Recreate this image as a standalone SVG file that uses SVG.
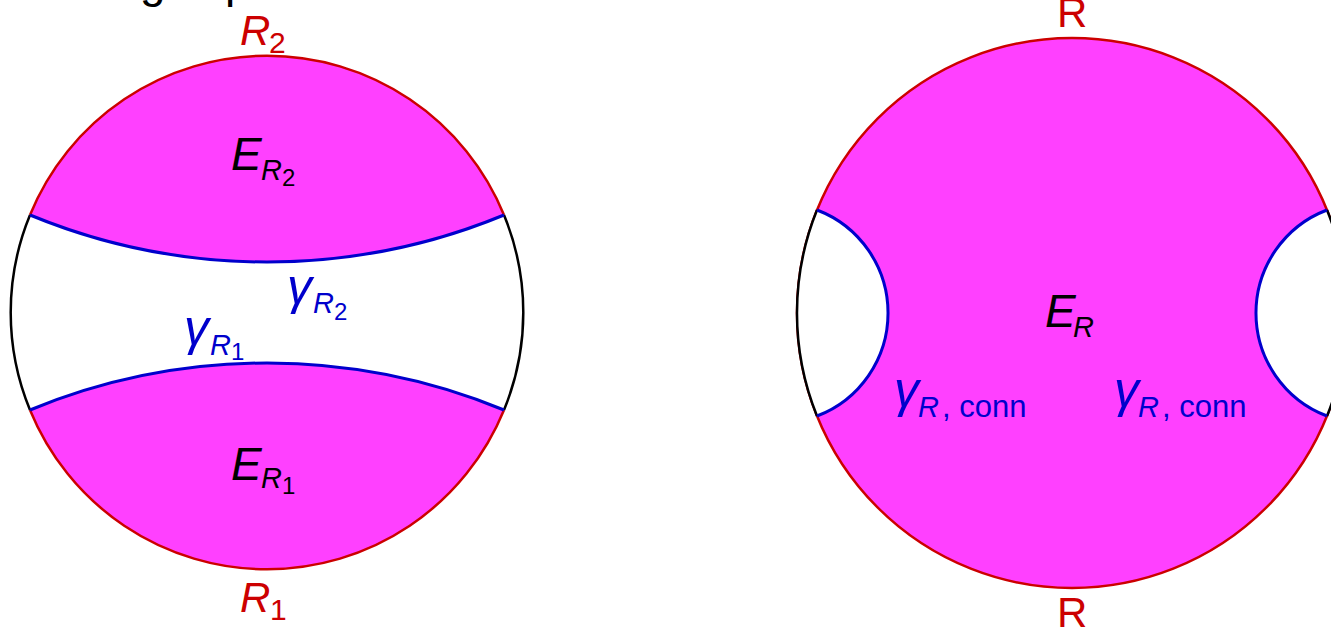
<svg xmlns="http://www.w3.org/2000/svg" width="1331" height="631" viewBox="0 0 1331 631">
<style>
.mag{fill:#ff40ff;stroke:none}
.wht{fill:#ffffff;stroke:none}
.red{fill:none;stroke:#cc0000;stroke-width:2.5}
.blk{fill:none;stroke:#000000;stroke-width:2.5}
.blu{fill:none;stroke:#0000cc;stroke-width:3}
text{font-family:"Liberation Sans",Arial,sans-serif}
.it{font-style:italic}
.tr{fill:#cc0000}
.tk{fill:#000000}
.tb{fill:#0000cc}
</style>
<rect x="0" y="0" width="1331" height="631" fill="#ffffff"/>
<g id="title-fragment">
<text class="tk" x="140" y="-3" font-size="46">g</text>
<text class="tk" x="225" y="-3" font-size="46">p</text>
</g>
<g id="left-bulk">
<circle cx="267" cy="312" r="256" fill="#ffffff"/>
<path id="ER2-region" class="mag" d="M30,215 A256,256 0 0 1 504,215 A621,621 0 0 1 30,215 Z"/>
<path id="ER1-region" class="mag" d="M30,410 A256,256 0 0 0 504,410 A621,621 0 0 0 30,410 Z"/>
<path class="red" d="M30,215 A256,256 0 0 1 504,215"/>
<path class="red" d="M30,410 A256,256 0 0 0 504,410"/>
<path class="blk" d="M30,215 A256,256 0 0 0 30,410"/>
<path class="blk" d="M504,215 A256,256 0 0 1 504,410"/>
</g>
<g id="left-connectors">
<path id="gammaR2" class="blu" d="M30,215 A621,621 0 0 0 504,215"/>
<path id="gammaR1" class="blu" d="M30,410 A621,621 0 0 1 504,410"/>
</g>
<g id="left-labels">
<text class="tr it" x="240" y="45" font-size="42">R<tspan x="269" y="53" font-size="30" font-style="normal">2</tspan></text>
<text class="tk it" x="231" y="170" font-size="46">E<tspan x="261" y="180" font-size="29">R</tspan><tspan x="282" y="186" font-size="24" font-style="normal">2</tspan></text>
<text class="tb it" x="287" y="304" font-size="50">γ<tspan x="313" y="313" font-size="29">R</tspan><tspan x="334" y="320" font-size="24" font-style="normal">2</tspan></text>
<text class="tb it" x="184" y="345" font-size="50">γ<tspan x="210" y="355" font-size="29">R</tspan><tspan x="231" y="360" font-size="24" font-style="normal">1</tspan></text>
<text class="tk it" x="231" y="480" font-size="46">E<tspan x="261" y="488" font-size="29">R</tspan><tspan x="282" y="494" font-size="24" font-style="normal">1</tspan></text>
<text class="tr it" x="240" y="612" font-size="42">R<tspan x="270" y="620" font-size="30" font-style="normal">1</tspan></text>
</g>
<g id="right-bulk">
<circle class="mag" cx="1072" cy="313" r="275"/>
<circle class="red" cx="1072" cy="313" r="275"/>
<path id="left-lens" class="wht" d="M817,210 A275,275 0 0 0 817,416 A110.2,110.2 0 0 0 817,210 Z"/>
<path id="right-lens" class="wht" d="M1327,210 A275,275 0 0 1 1327,416 A110.2,110.2 0 0 1 1327,210 Z"/>
<path class="blk" d="M817,210 A275,275 0 0 0 817,416"/>
<path class="blk" d="M1327,210 A275,275 0 0 1 1327,416"/>
</g>
<g id="right-connectors">
<path id="gammaRconn-left" class="blu" d="M817,210 A110.2,110.2 0 0 1 817,416"/>
<path id="gammaRconn-right" class="blu" d="M1327,210 A110.2,110.2 0 0 0 1327,416"/>
</g>
<g id="right-labels">
<text class="tr" x="1057" y="27" font-size="42">R</text>
<text class="tr" x="1057" y="627" font-size="42">R</text>
<text class="tk it" x="1045" y="327" font-size="46">E<tspan x="1073" y="337" font-size="29">R</tspan></text>
<text class="tb it" x="894" y="407" font-size="50">γ<tspan x="918" y="417" font-size="29">R</tspan><tspan x="942" y="417" font-size="31" font-style="normal">, conn</tspan></text>
<text class="tb it" x="1114" y="407" font-size="50">γ<tspan x="1138" y="417" font-size="29">R</tspan><tspan x="1162" y="417" font-size="31" font-style="normal">, conn</tspan></text>
</g>
</svg>
